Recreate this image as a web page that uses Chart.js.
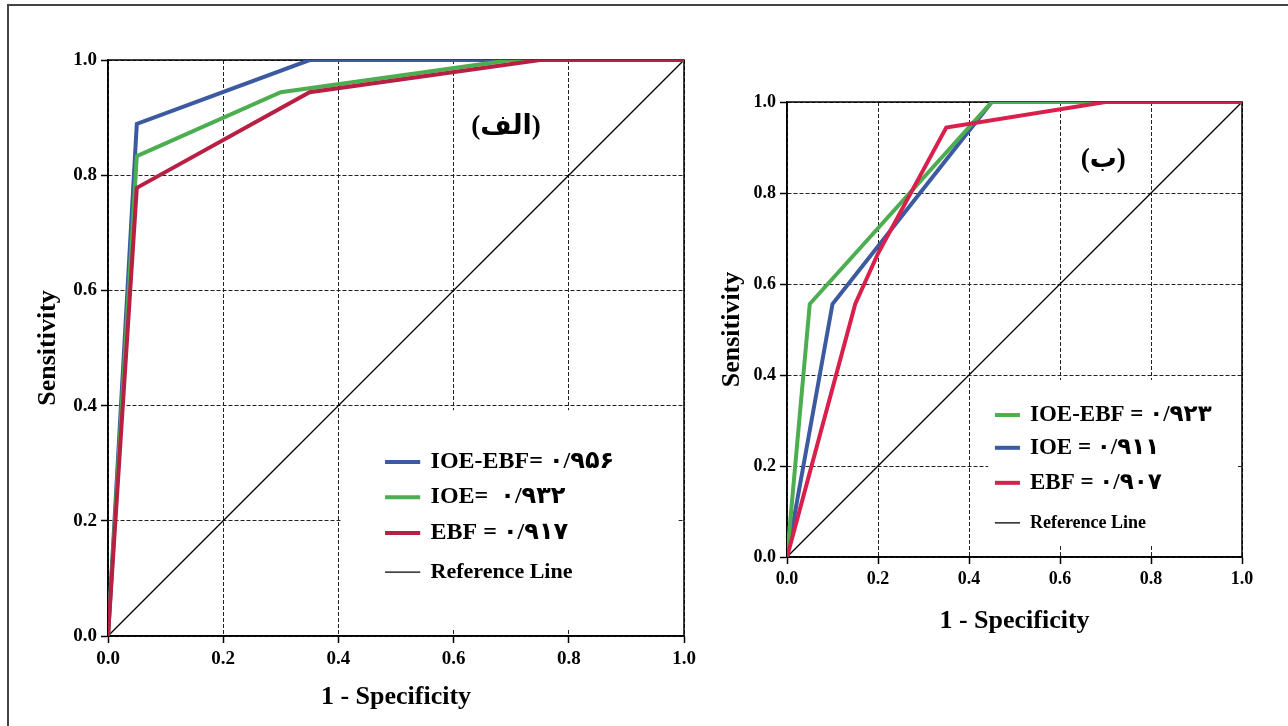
<!DOCTYPE html>
<html>
<head>
<meta charset="utf-8">
<script src="https://cdn.jsdelivr.net/npm/chart.js@4.4.1/dist/chart.umd.min.js"></script>
<style>
  body { margin: 0; background: #fff; width: 1288px; height: 726px; overflow: hidden; position: relative; }
  #frame { position: absolute; left: 7px; top: 4px; width: 1400px; height: 800px; border: 2px solid #444; }
  canvas { position: absolute; top: 0; }
  #rocA { left: 0; }
  #rocB { left: 620px; }
</style>
</head>
<body>
<div id="frame"></div>
<canvas id="rocA" width="720" height="726"></canvas>
<canvas id="rocB" width="668" height="726"></canvas>
<script>
// ---- panel (الف) : 1 - specificity / sensitivity pairs ----
const fprA_ioeEbf = [0, 0.05, 0.35, 1.0];
const tprA_ioeEbf = [0, 0.889, 1.0, 1.0];
const fprA_ioe = [0, 0.05, 0.30, 0.70, 1.0];
const tprA_ioe = [0, 0.833, 0.944, 1.0, 1.0];
const fprA_ebf = [0, 0.05, 0.35, 0.75, 1.0];
const tprA_ebf = [0, 0.778, 0.944, 1.0, 1.0];
const aucA = ["۰/۹۵۶", "۰/۹۳۲", "۰/۹۱۷"];

// ---- panel (ب) ----
const fprB_ioeEbf = [0, 0.05, 0.45, 1.0];
const tprB_ioeEbf = [0, 0.556, 1.0, 1.0];
const fprB_ioe = [0, 0.10, 0.45, 1.0];
const tprB_ioe = [0, 0.556, 1.0, 1.0];
const fprB_ebf = [0, 0.15, 0.20, 0.35, 0.70, 1.0];
const tprB_ebf = [0, 0.556, 0.667, 0.944, 1.0, 1.0];
const aucB = ["۰/۹۲۳", "۰/۹۱۱", "۰/۹۰۷"];

// diagonal reference line and axis ticks
const refX = [0, 1];
const refY = [0, 1];
const tickValues = [0, 0.2, 0.4, 0.6, 0.8, 1.0];

const BLUE = "#3c5a9f";
const GREEN = "#4cae50";
const RED_A = "#b81f42";
const RED_B = "#d8204c";
const SERIF = "'Liberation Serif', 'Times New Roman', 'DejaVu Sans', serif";

Chart.defaults.font.family = SERIF;
Chart.defaults.color = "#000";

const pts = (xs, ys) => xs.map((x, i) => ({ x: x, y: ys[i] }));

// draws the white legend box, the plot frame, legend rows and the panel tag
const rocDecor = {
  id: "rocDecor",
  beforeDatasetsDraw(chart, args, o) {
    const { ctx, chartArea: a, scales: { x, y } } = chart;
    ctx.save();
    const x0 = x.getPixelForValue(o.box[0]), x1 = x.getPixelForValue(o.box[1]);
    const y0 = y.getPixelForValue(o.box[3]), y1 = y.getPixelForValue(o.box[2]);
    ctx.fillStyle = "#fff";
    ctx.fillRect(x0, y0, x1 - x0, y1 - y0);
    ctx.strokeStyle = "#000";
    ctx.lineWidth = 1.5;
    ctx.strokeRect(a.left, a.top, a.right - a.left, a.bottom - a.top);
    ctx.restore();
  },
  afterDatasetsDraw(chart, args, o) {
    const { ctx, scales: { x, y } } = chart;
    ctx.save();
    ctx.fillStyle = "#000";
    ctx.textBaseline = "middle";
    ctx.textAlign = "center";
    ctx.font = o.tagFont;
    ctx.fillText(o.tag, x.getPixelForValue(o.tagAt[0]), y.getPixelForValue(o.tagAt[1]));

    ctx.textAlign = "left";
    o.rows.forEach((dsIndex, i) => {
      const ds = chart.data.datasets[dsIndex];
      const py = y.getPixelForValue(o.rowY[i]);
      ctx.strokeStyle = ds.borderColor;
      ctx.lineWidth = ds.borderWidth;
      ctx.beginPath();
      ctx.moveTo(x.getPixelForValue(o.lineX[0]), py);
      ctx.lineTo(x.getPixelForValue(o.lineX[1]), py);
      ctx.stroke();
      ctx.font = i === o.rows.length - 1 ? o.refFont : o.font;
      ctx.fillText(o.texts[i], x.getPixelForValue(o.textX), py);
    });
    ctx.restore();
  }
};

function rocChart(canvas, datasets, lay, decor) {
  const tickFont = { family: SERIF, weight: "bold", size: lay.tickSize };
  const titleFont = { family: SERIF, weight: "bold", size: lay.titleSize };
  const grid = {
    color: "#222",
    lineWidth: 1,
    tickLength: 7,
    tickColor: "#000",
    tickWidth: 1.5
  };
  const border = { color: "#000", width: 1.5, dash: [4, 2] };
  return new Chart(canvas, {
    type: "scatter",
    data: { datasets: datasets },
    options: {
      responsive: false,
      animation: false,
      layout: { padding: { left: 0, top: lay.top, right: lay.right, bottom: 0 } },
      plugins: { legend: { display: false }, tooltip: { enabled: false }, rocDecor: decor },
      scales: {
        x: {
          type: "linear", min: 0, max: 1,
          afterBuildTicks: s => { s.ticks = tickValues.map(v => ({ value: v })); },
          ticks: { font: tickFont, padding: 5, callback: v => v.toFixed(1) },
          grid: grid, border: border,
          title: { display: true, text: "1 - Specificity", font: titleFont, padding: { top: 0, bottom: lay.xTitlePad } },
          afterFit: s => { s.height = lay.xHeight; }
        },
        y: {
          type: "linear", min: 0, max: 1,
          afterBuildTicks: s => { s.ticks = tickValues.map(v => ({ value: v })); },
          ticks: { font: tickFont, padding: 4, callback: v => v.toFixed(1) },
          grid: grid, border: border,
          title: { display: true, text: "Sensitivity", font: titleFont, padding: { top: lay.yTitlePad, bottom: 0 } },
          afterFit: s => { s.width = lay.yWidth; }
        }
      }
    },
    plugins: [rocDecor]
  });
}

const lineDs = (label, xs, ys, color, width, order) => ({
  label: label, data: pts(xs, ys), showLine: true, borderColor: color, borderWidth: width,
  pointRadius: 0, tension: 0, fill: false, order: order
});

rocChart(document.getElementById("rocA"), [
  lineDs("IOE-EBF", fprA_ioeEbf, tprA_ioeEbf, BLUE, 4, 3),
  lineDs("IOE", fprA_ioe, tprA_ioe, GREEN, 4, 2),
  lineDs("EBF", fprA_ebf, tprA_ebf, RED_A, 4, 1),
  lineDs("Reference Line", refX, refY, "#000", 1.3, 4)
], {
  top: 60, right: 36, yWidth: 108, xHeight: 90,
  tickSize: 19, titleSize: 26, xTitlePad: 13, yTitlePad: 33
}, {
  box: [0.406, 0.99, 0.014, 0.392],
  tag: "(الف)", tagAt: [0.691, 0.884], tagFont: "bold 27px " + SERIF,
  rows: [0, 1, 2, 3],
  rowY: [0.302, 0.241, 0.179, 0.111],
  lineX: [0.481, 0.542], textX: 0.56,
  texts: ["IOE-EBF= " + aucA[0], "IOE=  " + aucA[1], "EBF = " + aucA[2], "Reference Line"],
  font: "bold 24px " + SERIF, refFont: "bold 22px " + SERIF
});

rocChart(document.getElementById("rocB"), [
  lineDs("IOE-EBF", fprB_ioeEbf, tprB_ioeEbf, GREEN, 4, 2),
  lineDs("IOE", fprB_ioe, tprB_ioe, BLUE, 4, 3),
  lineDs("EBF", fprB_ebf, tprB_ebf, RED_B, 4, 1),
  lineDs("Reference Line", refX, refY, "#000", 1.3, 4)
], {
  top: 102, right: 46, yWidth: 167, xHeight: 169,
  tickSize: 18, titleSize: 26, xTitlePad: 89, yTitlePad: 97
}, {
  box: [0.442, 0.991, 0.026, 0.389],
  tag: "(ب)", tagAt: [0.695, 0.873], tagFont: "bold 27px " + SERIF,
  rows: [0, 1, 2, 3],
  rowY: [0.312, 0.240, 0.163, 0.075],
  lineX: [0.457, 0.512], textX: 0.534,
  texts: ["IOE-EBF = " + aucB[0], "IOE = " + aucB[1], "EBF = " + aucB[2], "Reference Line"],
  font: "bold 23px " + SERIF, refFont: "bold 18px " + SERIF
});
</script>
</body>
</html>
